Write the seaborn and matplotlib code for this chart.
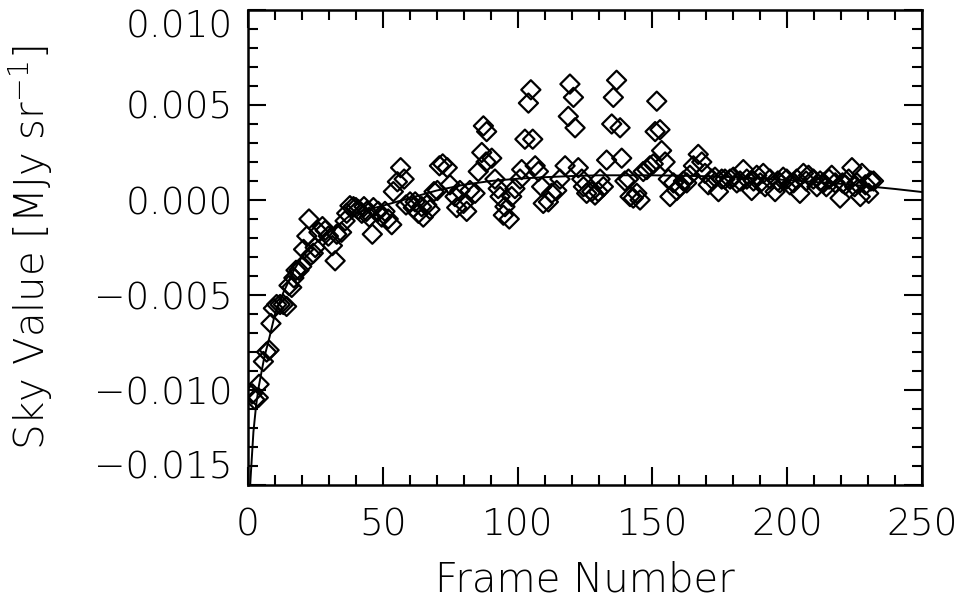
import numpy as np
import pandas as pd
import seaborn as sns
import matplotlib
matplotlib.use('Agg')
import matplotlib.pyplot as plt
from matplotlib.ticker import MultipleLocator, FuncFormatter

# sky values per frame
frame = [1.6, 2.5, 3.8, 4.1, 5.7, 6.9, 7.8, 8.5, 9.4, 10.6, 11.9, 13.1, 14.3, 15.2,
         16.2, 17.0, 17.8, 18.9, 19.9, 20.6, 21.8, 22.6, 23.4, 24.2, 24.9, 26.3,
         27.6, 28.6, 29.8, 31.3, 32.3, 32.9, 34.7, 36.0, 36.6, 37.8, 39.1, 40.0,
         40.9, 42.2, 43.0, 44.0, 45.0, 46.1, 46.5, 48.3, 49.6, 50.8, 52.0, 53.3,
         53.9, 55.4, 56.6, 57.9, 58.6, 60.1, 61.3, 62.0, 63.2, 64.4, 65.0, 66.3,
         67.5, 69.0, 70.2, 71.0, 72.2, 73.9, 74.9, 76.8, 77.4, 78.6, 79.9, 81.1,
         82.3, 84.2, 85.4, 86.7, 87.3, 88.3, 88.5, 90.4, 91.6, 92.8, 93.5, 94.7,
         95.3, 96.9, 97.8, 99.0, 100.9, 101.5, 102.7, 104.0, 104.9, 105.6, 106.5,
         107.7, 108.9, 109.5, 111.4, 112.6, 114.5, 115.7, 117.6, 118.8, 119.4,
         120.7, 121.3, 122.5, 123.8, 124.4, 125.6, 127.5, 128.7, 129.9, 130.6,
         131.8, 133.0, 134.9, 135.5, 136.7, 138.0, 138.6, 139.8, 141.1, 141.7,
         142.9, 144.2, 145.4, 146.6, 147.9, 149.1, 150.3, 151.0, 151.6, 152.8,
         153.4, 154.7, 155.9, 156.5, 157.8, 159.0, 160.2, 161.5, 162.7, 163.9,
         165.2, 167.0, 168.3, 169.5, 170.7, 172.0, 173.2, 174.5, 175.7, 176.9,
         178.8, 180.0, 181.3, 182.5, 183.7, 185.0, 186.8, 187.5, 188.7, 190.0,
         191.1, 191.8, 193.6, 195.5, 196.5, 197.3, 198.5, 199.8, 201.0, 202.3,
         203.5, 204.7, 206.0, 207.0, 207.9, 209.7, 211.0, 212.2, 213.4, 214.5,
         215.5, 216.5, 217.8, 219.6, 220.5, 221.5, 222.8, 224.0, 225.0, 225.8,
         227.1, 227.7, 229.0, 230.2, 231.0, 232.0]
sky = [-0.0102, -0.0105, -0.0104, -0.0097, -0.0085, -0.0080, -0.0079, -0.0065,
       -0.0057, -0.0055, -0.0055, -0.0055, -0.0056, -0.0045, -0.0046, -0.0041,
       -0.0037, -0.0037, -0.0035, -0.0026, -0.0019, -0.0010, -0.0029, -0.0028,
       -0.0025, -0.0017, -0.0014, -0.0016, -0.0019, -0.0024, -0.0032, -0.0018,
       -0.0017, -0.0011, -0.0007, -0.0003, -0.00035, -0.0004, -0.0005, -0.0007,
       -0.00035, -0.0006, -0.0009, -0.0018, -0.0004, -0.0006, -0.0009, -0.0006,
       -0.0010, -0.0013, 0.00044, 0.00096, 0.0017, 0.0011, -0.00026, -0.0001,
       -0.0004, -0.0001, -0.0007, -0.00035, -0.0009, -0.00026, -0.0005, 0.00044,
       0.0005, 0.0018, 0.0019, 0.0017, 0.0008, 0.00018, -0.0004, 0.0005,
       -0.00018, -0.0006, 0.0005, 0.00035, 0.0015, 0.0025, 0.0039, 0.0020,
       0.0036, 0.0022, 0.0011, 0.0006, 0.00018, -0.0008, -0.00035, -0.0010,
       0.00018, 0.0006, 0.0011, 0.0016, 0.0032, 0.0051, 0.0058, 0.0032, 0.0018,
       0.0015, 0.0007, -0.00018, -0.0001, 0.00035, 0.0005, 0.0011, 0.0018,
       0.0044, 0.0061, 0.0054, 0.0038, 0.0017, 0.0011, 0.0007, 0.00035, 0.00044,
       0.00026, 0.00044, 0.0011, 0.0007, 0.0021, 0.0040, 0.0054, 0.0063, 0.0038,
       0.0022, 0.0010, 0.0011, 0.00018, 0.0001, 0.00035, 0.0, 0.0015, 0.0016,
       0.0018, 0.0019, 0.0036, 0.0052, 0.0037, 0.0026, 0.0020, 0.0011, 0.00018,
       0.0009, 0.0005, 0.0007, 0.0010, 0.0009, 0.0013, 0.0018, 0.0024, 0.0020,
       0.0014, 0.0008, 0.0011, 0.0012, 0.00044, 0.0011, 0.0011, 0.0011, 0.0012,
       0.0009, 0.0010, 0.0016, 0.0011, 0.0005, 0.0010, 0.0013, 0.0009, 0.0014,
       0.0007, 0.0011, 0.00044, 0.0010, 0.0009, 0.0012, 0.0011, 0.0008, 0.0009,
       0.0011, 0.00035, 0.0014, 0.0010, 0.0013, 0.0011, 0.0007, 0.0010, 0.0009,
       0.0007, 0.0011, 0.0013, 0.0009, 0.0001, 0.0009, 0.0008, 0.0011, 0.0017,
       0.0007, 0.0009, 0.00018, 0.0014, 0.0008, 0.00035, 0.0010, 0.0010]

# fitted curve
fit_frame = [0.8, 1, 2, 3, 4, 6, 8, 10, 13, 17, 20, 24, 28, 32, 37, 42, 50, 60, 70,
             80, 90, 100, 110, 120, 130, 140, 150, 160, 170, 180, 190, 200, 210,
             220, 230, 240, 250]
fit_sky = [-0.0150, -0.0145, -0.0122, -0.0108, -0.0098, -0.0083, -0.0072, -0.0060,
           -0.0049, -0.0037, -0.0030, -0.0024, -0.0019, -0.0015, -0.0009, -0.0006,
           -0.0003, 0.0001, 0.0005, 0.0008, 0.0010, 0.00112, 0.0012, 0.00126,
           0.0013, 0.0013, 0.0013, 0.00128, 0.00125, 0.0012, 0.00113, 0.00105,
           0.00095, 0.00085, 0.00072, 0.00058, 0.00042]

y_ticks = [-0.015, -0.010, -0.005, 0.000, 0.005, 0.010]
x_ticks = [0, 50, 100, 150, 200, 250]

pts = pd.DataFrame({'frame': frame, 'sky': sky})
fit = pd.DataFrame({'frame': fit_frame, 'sky': fit_sky})

sns.set_style('ticks')
plt.rcParams['font.family'] = ['DejaVu Sans']
plt.rcParams['font.weight'] = 'light'
plt.rcParams['axes.labelweight'] = 'light'
plt.rcParams['axes.unicode_minus'] = True

fig = plt.figure(figsize=(9.67, 6.05), dpi=100)
ax = fig.add_axes([0.2565, 0.1983, 0.697, 0.7852])

sns.lineplot(data=fit, x='frame', y='sky', ax=ax, color='black', linewidth=1.4,
             sort=False, estimator=None)
sns.scatterplot(data=pts, x='frame', y='sky', ax=ax, marker='D', s=95,
                facecolor='none', edgecolor='black', linewidth=1.6)

ax.set_xlim(0, 250)
ax.set_ylim(-0.015, 0.010)
ax.set_xticks(x_ticks)
ax.set_yticks(y_ticks)
ax.xaxis.set_minor_locator(MultipleLocator(10))
ax.yaxis.set_minor_locator(MultipleLocator(0.001))
ax.yaxis.set_major_formatter(FuncFormatter(lambda v, p: f'{v:.3f}'.replace('-', '\u2212')))
ax.tick_params(which='both', direction='in', top=True, right=True, width=1.5,
               labelsize=27, colors='black')
ax.tick_params(axis='y', pad=11)
ax.tick_params(axis='x', pad=16)
ax.tick_params(which='major', length=13)
ax.tick_params(which='minor', length=7)
for sp in ax.spines.values():
    sp.set_linewidth(1.8)
    sp.set_color('black')

# keep the end labels inside the axis span, like the original
ylabels = ax.get_yticklabels()
ylabels[0].set_va('bottom')
ylabels[-1].set_va('top')

ax.set_xlabel('Frame Number', fontsize=29, color='black', fontweight='light')
ax.set_ylabel('Sky Value [MJy sr$^{-1}$]', fontsize=29, color='black', fontweight='light')
ax.xaxis.set_label_coords(0.5, -0.158)
ax.yaxis.set_label_coords(-0.287, 0.5)

plt.savefig('out.png', dpi=100)
plt.close()
